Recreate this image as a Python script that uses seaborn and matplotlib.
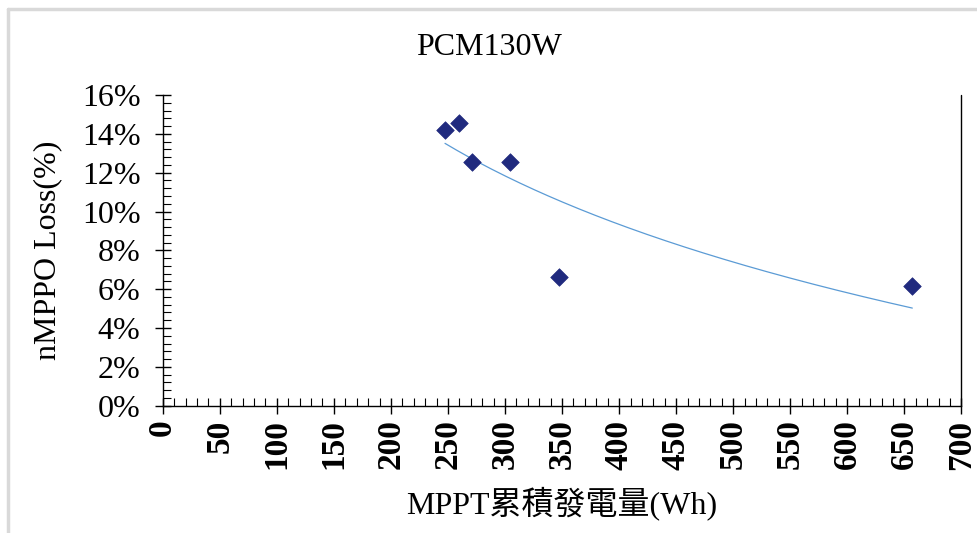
import numpy as np
import pandas as pd
import matplotlib
matplotlib.use("Agg")
import matplotlib.pyplot as plt
from matplotlib.lines import Line2D
from matplotlib.ticker import MultipleLocator, PercentFormatter
import seaborn as sns

# MPPT cumulative energy (Wh) and nMPPO loss (%)
energy_wh = [247.4, 260.0, 270.8, 304.4, 347.6, 657.0]
loss_pct = [14.2, 14.54, 12.53, 12.53, 6.64, 6.16]
x_ticks = list(range(0, 701, 50))
y_ticks = list(range(0, 17, 2))

sns.set_theme(style="white")
plt.rcParams["font.family"] = ["Liberation Serif", "Noto Sans CJK TC"]
plt.rcParams["text.color"] = "black"
plt.rcParams["axes.labelcolor"] = "black"
plt.rcParams["xtick.color"] = "black"
plt.rcParams["ytick.color"] = "black"

df = pd.DataFrame({"energy": energy_wh, "loss": loss_pct})

# Excel style logarithmic trendline
b, a = np.polyfit(np.log(df["energy"]), df["loss"], 1)
fit_x = np.linspace(df["energy"].min(), df["energy"].max(), 200)
fit = pd.DataFrame({"energy": fit_x, "loss": a + b * np.log(fit_x)})

fig = plt.figure(figsize=(9.78, 5.33), dpi=100)
ax = fig.add_axes([0.1664, 0.2388, 0.8166, 0.583])

sns.lineplot(data=fit, x="energy", y="loss", color="#5B9BD5", linewidth=0.9, ax=ax)
sns.scatterplot(data=df, x="energy", y="loss", marker="D", s=80,
                color="#202A7E", edgecolor="#202A7E", linewidth=0.5, ax=ax, zorder=3)

ax.set_xlim(0, 700)
ax.set_ylim(0, 16)
ax.set_xticks(x_ticks)
ax.set_yticks(y_ticks)
ax.xaxis.set_minor_locator(MultipleLocator(10))
ax.yaxis.set_minor_locator(MultipleLocator(0.4))
ax.yaxis.set_major_formatter(PercentFormatter(decimals=0))

for side in ["top", "right"]:
    ax.spines[side].set_visible(False)
for side in ["left", "bottom"]:
    ax.spines[side].set_color("black")
    ax.spines[side].set_linewidth(1.0)
ax.plot([1, 1], [0, 1], transform=ax.transAxes, color="black", lw=1.0, clip_on=False)

ax.tick_params(which="major", direction="inout", length=12, width=1.0, color="black")
ax.tick_params(which="minor", direction="in", length=6, width=0.8, color="black")
ax.tick_params(axis="both", which="both", bottom=True, left=True)
ax.tick_params(axis="y", labelsize=23, pad=10)
ax.tick_params(axis="x", labelsize=24, pad=4, labelrotation=90)
for lbl in ax.get_xticklabels():
    lbl.set_fontweight("bold")

ax.set_xlabel("MPPT累積發電量(Wh)", fontsize=23, labelpad=12)
ax.set_ylabel("nMPPO Loss(%)", fontsize=23, labelpad=14)
fig.text(0.5, 0.91, "PCM130W", ha="center", va="center", fontsize=23)

# light grey chart-area border
fig.add_artist(Line2D([0.008, 1.0], [0.983, 0.983], color="#D9D9D9", lw=2.5))
fig.add_artist(Line2D([0.008, 0.008], [0.0, 0.983], color="#D9D9D9", lw=2.5))

fig.savefig("out.png", dpi=100)
